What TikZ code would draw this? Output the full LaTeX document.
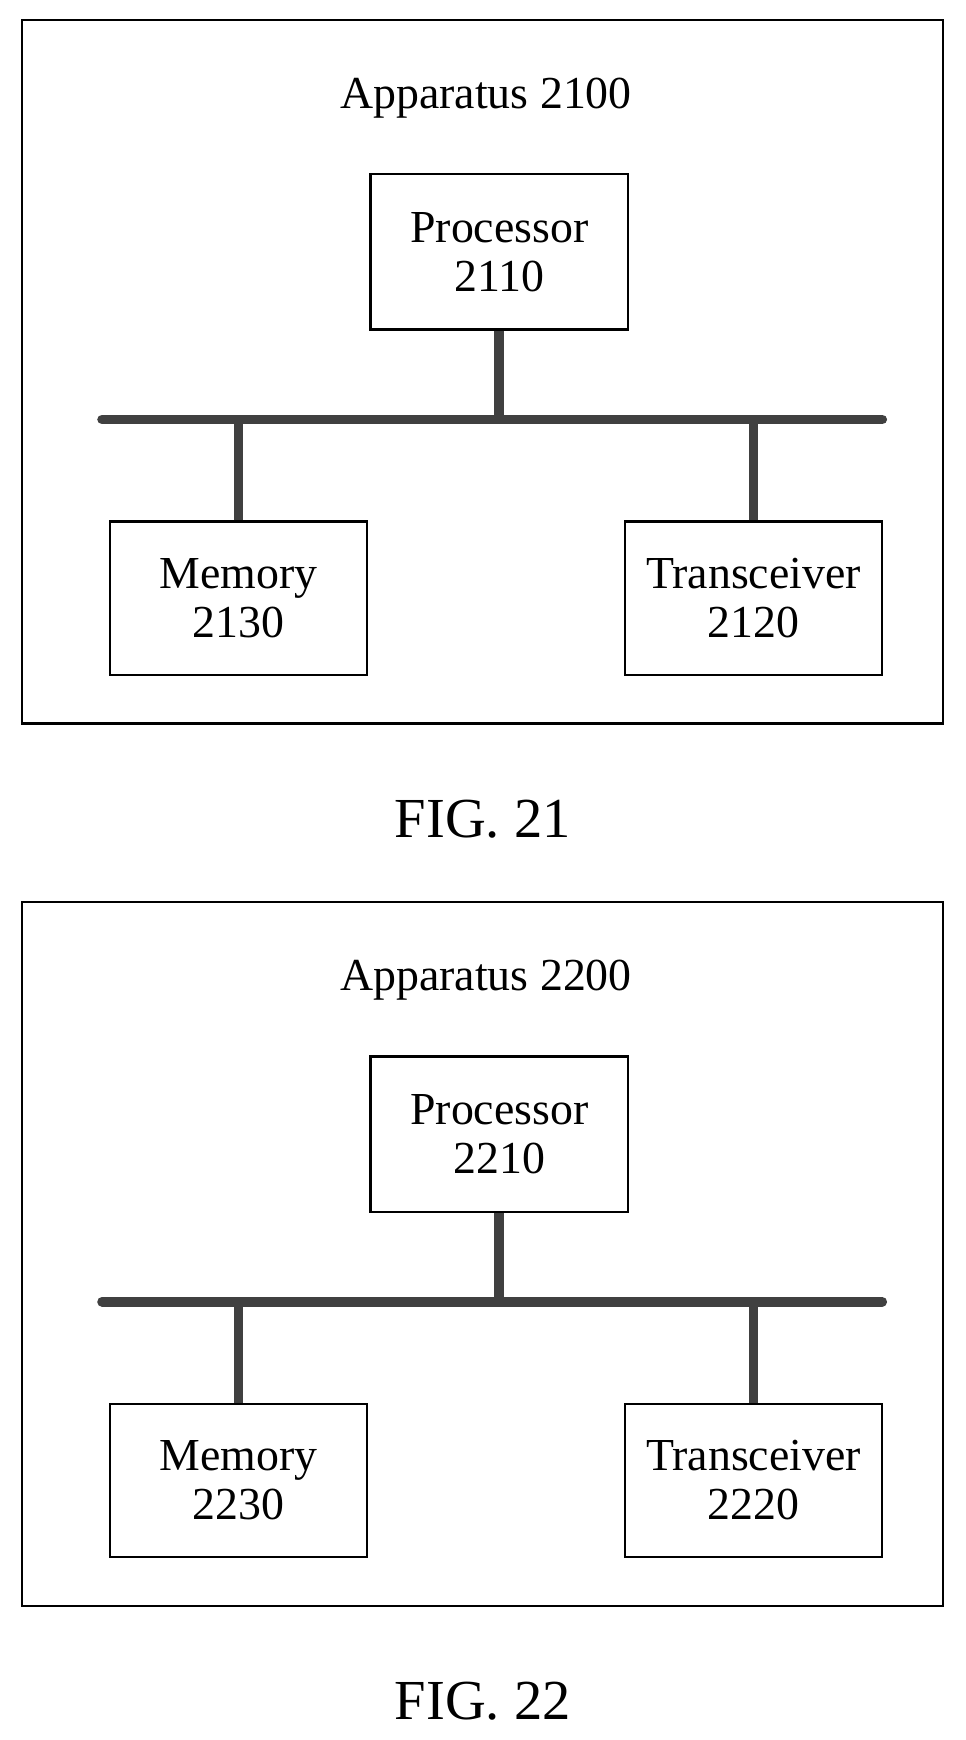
\documentclass[tikz,border=0pt]{standalone}
\usepackage{fontspec}
\setmainfont{Liberation Serif}
\usetikzlibrary{positioning}
\tikzset{
  unit/.style={draw,line width=1.2pt,minimum width=232*0.02cm,minimum height=138*0.02cm,align=center,font=\fontsize{23.5}{25}\selectfont},
  bus/.style={line width=5pt,color=black!75,line cap=round},
  stem/.style={line width=5pt,color=black!75}
}
\begin{document}
\begin{tikzpicture}[x=0.02cm,y=-0.02cm]
\useasboundingbox (0,0) rectangle (870,1568);
\foreach \n/\dy in {21/0,22/795}{
  \begin{scope}[yshift=-\dy*0.02cm]
  \draw[line width=1.2pt] (20,18) rectangle (850,652);
  \node[font=\fontsize{23.5}{25}\selectfont] (app\n) at (438,88) {Apparatus \n00};
  \node[unit,minimum height=140*0.02cm] (proc\n) at (450,227) {Processor\\\n10};
  \node[unit] (mem\n) at (215,539) {Memory\\\n30};
  \node[unit] (trx\n) at (679,539) {Transceiver\\\n20};
  \coordinate (busl\n) at (92,378);
  \coordinate (busr\n) at (795,378);
  \draw[bus] (busl\n) -- (busr\n);
  \draw[stem] (proc\n.south) -- (proc\n.south |- busl\n);
  \draw[stem] (mem\n.north) -- (mem\n.north |- busl\n);
  \draw[stem] (trx\n.north) -- (trx\n.north |- busl\n);
  \node[font=\fontsize{29}{30}\selectfont] (fig\n) at (435,738) {FIG. \n};
  \end{scope}
}
\end{tikzpicture}
\end{document}
